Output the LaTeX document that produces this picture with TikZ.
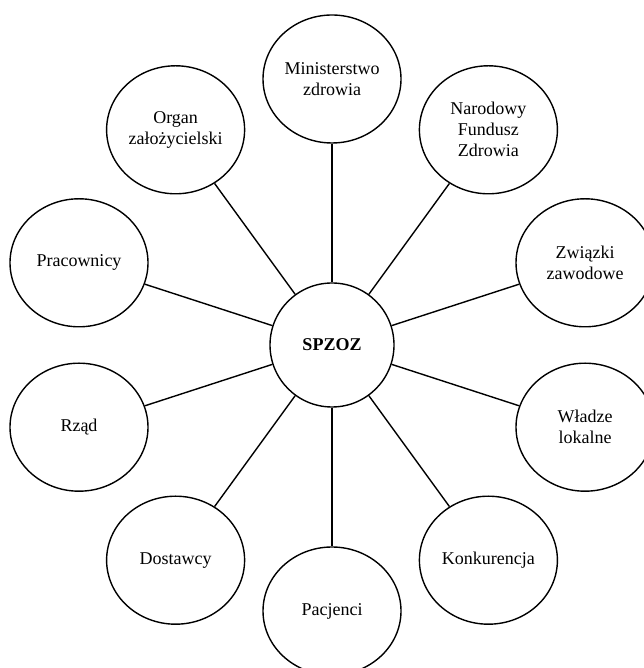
\documentclass[tikz,border=0pt]{standalone}
\usepackage{fontspec}
\setmainfont{Liberation Serif}
\usetikzlibrary{shapes.geometric}

\begin{document}
\begin{tikzpicture}[x=1pt,y=1pt,
	hub/.style={draw, circle, line width=1.4pt, minimum size=124pt, inner sep=0pt, font=\fontsize{18}{21}\selectfont\bfseries},
	actor/.style={draw, ellipse, line width=1.4pt, minimum width=138pt, minimum height=128pt, inner sep=0pt, align=center, font=\fontsize{18}{21}\selectfont},
	link/.style={line width=1.4pt}]
	\useasboundingbox (0,0) rectangle (643,668);
	\node[hub] (spzoz) at (332,323){SPZOZ};%centre
	\node[actor] (min) at (332,589){Ministerstwo\\zdrowia};%90
	\node[actor] (organ) at (175.6,538.2){Organ\\założycielski};%126
	\node[actor] (prac) at (79,405.2){Pracownicy};%162
	\node[actor] (rzad) at (79,240.8){Rząd};%198
	\node[actor] (dost) at (175.6,107.8){Dostawcy};%234
	\node[actor] (pac) at (332,57){Pacjenci};%270
	\node[actor] (konk) at (488.4,107.8){Konkurencja};%306
	\node[actor] (wladze) at (585,240.8){Władze\\lokalne};%342
	\node[actor] (zwiazki) at (585,405.2){Związki\\zawodowe};%18
	\node[actor] (nfz) at (488.4,538.2){Narodowy\\Fundusz\\Zdrowia};%54
	\draw[link] (spzoz) -- (min);
	\draw[link] (spzoz) -- (organ);
	\draw[link] (spzoz) -- (prac);
	\draw[link] (spzoz) -- (rzad);
	\draw[link] (spzoz) -- (dost);
	\draw[link] (spzoz) -- (pac);
	\draw[link] (spzoz) -- (konk);
	\draw[link] (spzoz) -- (wladze);
	\draw[link] (spzoz) -- (zwiazki);
	\draw[link] (spzoz) -- (nfz);
\end{tikzpicture}
\end{document}
